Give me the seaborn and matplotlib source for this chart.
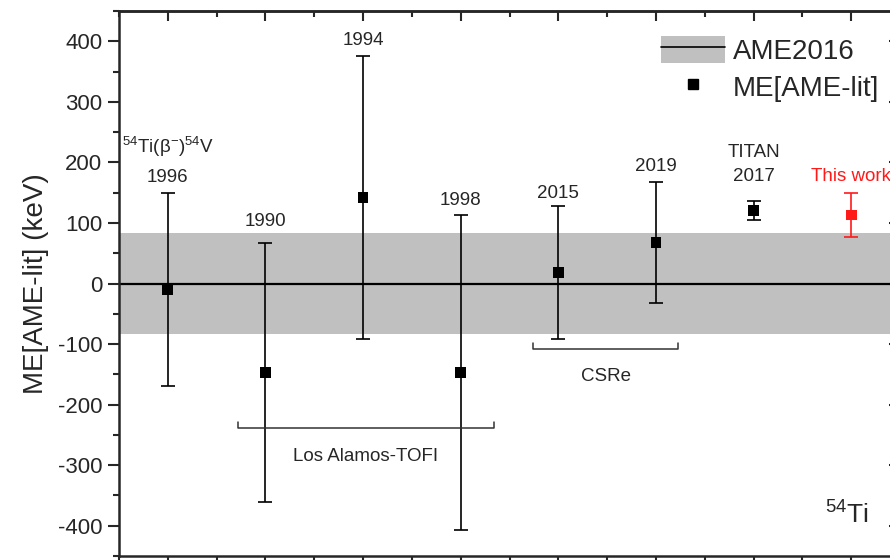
import matplotlib
matplotlib.use("Agg")
import matplotlib.pyplot as plt
from matplotlib.patches import Patch
from matplotlib.lines import Line2D
from matplotlib.ticker import MultipleLocator
import seaborn as sns
import pandas as pd

# Mass-excess differences ME[AME] - ME[lit] for 54Ti (keV)
measurement_pos = [1, 2, 3, 4, 5, 6, 7, 8]
measurement_year = ["1996", "1990", "1994", "1998", "2015", "2019", "2017", "This work"]
me_diff = [-10, -147, 142, -147, 18, 68, 121, 113]
me_err = [160, 214, 233, 260, 110, 100, 16, 37]
is_this_work = [False, False, False, False, False, False, False, True]
ame2016_unc = 83

sns.set_theme(style="ticks")
plt.rcParams["font.family"] = ["Liberation Sans", "DejaVu Sans"]
plt.rcParams["mathtext.fontset"] = "custom"
plt.rcParams["mathtext.rm"] = "Liberation Sans"
plt.rcParams["mathtext.it"] = "Liberation Sans:italic"
plt.rcParams["axes.unicode_minus"] = False

df = pd.DataFrame({
    "pos": measurement_pos,
    "diff": me_diff,
    "err": me_err,
    "source": ["This work" if t else "literature" for t in is_this_work],
})

RED = "#ff1a1a"
fig = plt.figure(figsize=(8.9, 5.6), dpi=100)
ax = fig.add_axes([119 / 890, 4 / 560, 781 / 890, 545 / 560])

# AME2016 uncertainty band and zero line
ax.axhspan(-ame2016_unc, ame2016_unc, color="#c0c0c0", lw=0, zorder=0)
ax.axhline(0, color="black", lw=1.6, zorder=1)

# error bars
for _, r in df.iterrows():
    c = RED if r["source"] == "This work" else "black"
    ax.errorbar(r["pos"], r["diff"], yerr=r["err"], fmt="none", ecolor=c,
                elinewidth=1.2, capsize=5, capthick=1.2, zorder=2)

sns.scatterplot(data=df, x="pos", y="diff", hue="source",
                palette={"literature": "black", "This work": RED},
                marker="s", s=60, linewidth=0, legend=False, zorder=3, ax=ax)

ax.set_xlim(0.5, 8.5)
ax.set_ylim(-450, 450)
ax.set_xlabel("")
ax.set_ylabel("ME[AME-lit] (keV)", fontsize=20, labelpad=6)

ax.yaxis.set_major_locator(MultipleLocator(100))
ax.yaxis.set_minor_locator(MultipleLocator(50))
ax.xaxis.set_major_locator(MultipleLocator(1))
ax.xaxis.set_minor_locator(MultipleLocator(0.5))
ax.tick_params(axis="y", which="major", direction="out", length=8, width=1.5,
               labelsize=16, pad=4)
ax.tick_params(axis="y", which="minor", direction="out", length=4, width=1.5)
ax.tick_params(axis="x", which="major", direction="out", length=8, width=1.5,
               labelbottom=False)
ax.tick_params(axis="x", which="minor", direction="out", length=4, width=1.5)
for sp in ax.spines.values():
    sp.set_visible(True)
    sp.set_linewidth(1.8)

top = ax.secondary_xaxis("top")
top.xaxis.set_major_locator(MultipleLocator(1))
top.xaxis.set_minor_locator(MultipleLocator(0.5))
top.tick_params(which="major", direction="in", length=7, width=1.5, labeltop=False)
top.tick_params(which="minor", direction="in", length=4, width=1.5)
top.spines["top"].set_linewidth(1.8)

right = ax.secondary_yaxis("right")
right.yaxis.set_major_locator(MultipleLocator(100))
right.yaxis.set_minor_locator(MultipleLocator(50))
right.tick_params(which="major", direction="in", length=8, width=1.5, labelright=False)
right.tick_params(which="minor", direction="in", length=4, width=1.5)

# measurement labels
fs = 13.5
ax.text(1, 225, r"$^{54}$Ti(β$^{-}$)$^{54}$V", ha="center", va="center", fontsize=fs)
ax.text(1, 175, "1996", ha="center", va="center", fontsize=fs)
ax.text(2, 102, "1990", ha="center", va="center", fontsize=fs)
ax.text(3, 401, "1994", ha="center", va="center", fontsize=fs)
ax.text(4, 137, "1998", ha="center", va="center", fontsize=fs)
ax.text(5, 148, "2015", ha="center", va="center", fontsize=fs)
ax.text(6, 193, "2019", ha="center", va="center", fontsize=fs)
ax.text(7, 217, "TITAN", ha="center", va="center", fontsize=fs)
ax.text(7, 176, "2017", ha="center", va="center", fontsize=fs)
ax.text(8, 176, "This work", ha="center", va="center", fontsize=fs, color=RED)

# group brackets
def bracket(x0, x1, y, h, label, ly):
    ax.plot([x0, x0, x1, x1], [y + h, y, y, y + h], color="#333333", lw=1.1, zorder=2)
    ax.text((x0 + x1) / 2, ly, label, ha="center", va="center", fontsize=fs)

bracket(1.72, 4.34, -238, 9, "Los Alamos-TOFI", -285)
bracket(4.74, 6.23, -108, 10, "CSRe", -154)

ax.text(7.96, -383, r"$^{54}$Ti", ha="center", va="center", fontsize=19)

handles = [
    (Patch(facecolor="#c0c0c0", edgecolor="none"), Line2D([], [], color="black", lw=1.2)),
    Line2D([], [], color="black", marker="s", markersize=7.5, linestyle="none"),
]
ax.legend(handles, ["AME2016", "ME[AME-lit]"], loc="upper right",
          bbox_to_anchor=(0.995, 0.985), fontsize=20, frameon=False,
          handlelength=2.3, handleheight=1.1, labelspacing=0.3,
          handletextpad=0.3, borderaxespad=0.2)

fig.savefig("out.png", dpi=100)
